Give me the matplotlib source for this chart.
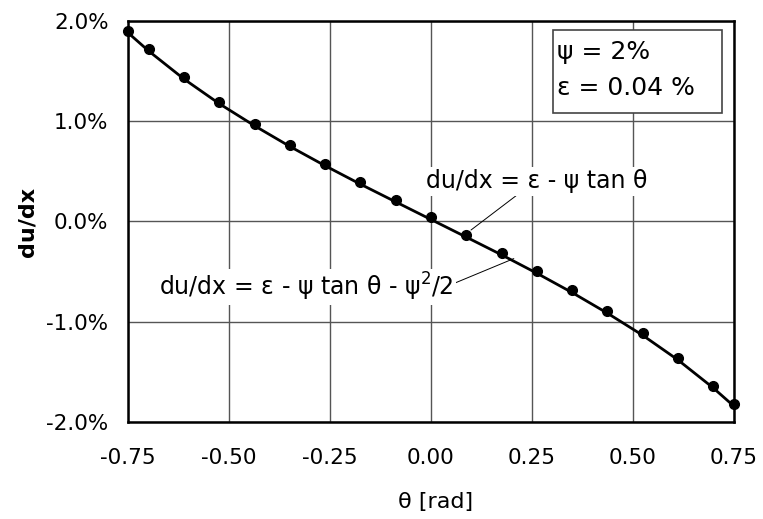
import matplotlib
matplotlib.use('Agg')
import matplotlib.pyplot as plt
import matplotlib.patches as mpatches
from matplotlib.ticker import FuncFormatter

plt.rcParams['font.family'] = ['DejaVu Sans']

# theta in rad (5 deg steps, ends at +/-0.75)
theta = [-0.75, -0.698, -0.611, -0.524, -0.436, -0.349, -0.262, -0.175, -0.087, 0.0,
         0.087, 0.175, 0.262, 0.349, 0.436, 0.524, 0.611, 0.698, 0.75]
# du/dx = eps - psi tan(theta)  [%]  (dots)
dudx_dots = [1.903, 1.718, 1.440, 1.195, 0.973, 0.768, 0.576, 0.393, 0.215, 0.040,
             -0.135, -0.313, -0.496, -0.688, -0.893, -1.115, -1.360, -1.638, -1.823]
# du/dx = eps - psi tan(theta) - psi^2/2  [%]  (line)
dudx_line = [1.883, 1.698, 1.420, 1.175, 0.953, 0.748, 0.556, 0.373, 0.195, 0.020,
             -0.155, -0.333, -0.516, -0.708, -0.913, -1.135, -1.380, -1.658, -1.843]

xticks = [-0.75, -0.50, -0.25, 0.00, 0.25, 0.50, 0.75]
yticks = [-2.0, -1.0, 0.0, 1.0, 2.0]

fig = plt.figure(figsize=(7.63, 5.19), dpi=100)
ax = fig.add_axes([128 / 763, 1 - 422 / 519, 606 / 763, 401 / 519])

ax.plot(theta, dudx_line, color='black', linewidth=2.0, zorder=3)
ax.plot(theta, dudx_dots, linestyle='none', marker='o', markersize=7,
        color='black', zorder=4, clip_on=False)

ax.set_xlim(-0.75, 0.75)
ax.set_ylim(-2.0, 2.0)
ax.set_xticks(xticks)
ax.set_yticks(yticks)
ax.xaxis.set_major_formatter(FuncFormatter(lambda v, p: f'{v:.2f}'))
ax.yaxis.set_major_formatter(FuncFormatter(lambda v, p: f'{v:.1f}%'))
ax.tick_params(length=0, labelsize=15.5)
ax.tick_params(axis='x', pad=18.5)
ax.tick_params(axis='y', pad=14)

ax.grid(True, color='#555555', linewidth=1.0)
ax.set_axisbelow(True)
for s in ax.spines.values():
    s.set_linewidth(1.8)
    s.set_color('black')

ax.set_xlabel('θ [rad]', fontsize=16)
ax.xaxis.set_label_coords(0.507, -0.175)
ax.set_ylabel('du/dx', fontsize=16, fontweight='bold')
ax.yaxis.set_label_coords(-0.150, 0.499)

# parameter box
box = mpatches.Rectangle((0.302, 1.082), 0.418, 0.828, facecolor='white',
                         edgecolor='#444444', linewidth=1.2, zorder=5)
ax.add_patch(box)
ax.text(0.312, 1.69, 'ψ = 2%', fontsize=18, ha='left', va='center', zorder=6)
ax.text(0.312, 1.33, 'ε = 0.04 %', fontsize=18, ha='left', va='center', zorder=6)

# annotations
ax.annotate('du/dx = ε - ψ tan θ', xy=(0.099, -0.085), xytext=(0.262, 0.40),
            fontsize=17, ha='center', va='center',
            arrowprops=dict(arrowstyle='-', color='black', linewidth=0.7,
                            shrinkA=0, shrinkB=0, relpos=(0.42, 0.0)),
            bbox=dict(boxstyle='square,pad=0.1', facecolor='white', edgecolor='none'),
            zorder=5)
ax.annotate('du/dx = ε - ψ tan θ - ψ$^2$/2', xy=(0.205, -0.37), xytext=(-0.309, -0.653),
            fontsize=17, ha='center', va='center',
            arrowprops=dict(arrowstyle='-', color='black', linewidth=0.7,
                            shrinkA=0, shrinkB=0, relpos=(1.0, 0.6)),
            bbox=dict(boxstyle='square,pad=0.1', facecolor='white', edgecolor='none'),
            zorder=5)

fig.savefig('out.png', dpi=100)
